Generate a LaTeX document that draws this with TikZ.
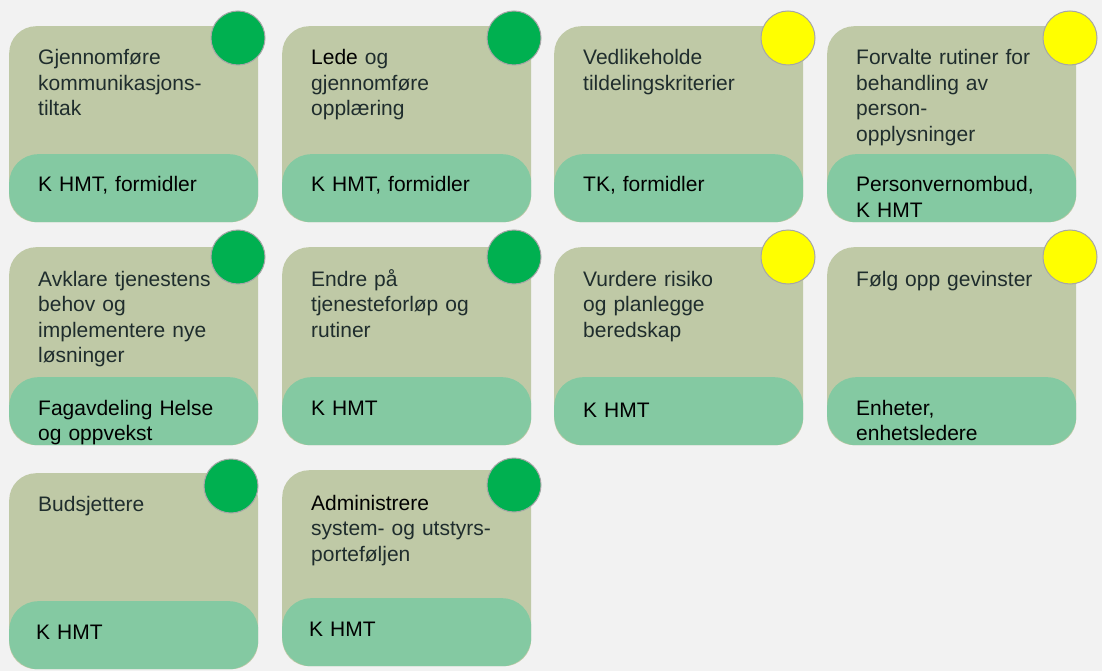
\documentclass[tikz,border=0pt]{standalone}
\usepackage{fontspec}
\usepackage{xcolor}
\setmainfont{Liberation Sans}
\definecolor{PageGrey}{HTML}{F2F2F2}
\definecolor{CardOlive}{HTML}{BFC9A6}
\definecolor{CardGreen}{HTML}{84C9A2}
\definecolor{TitleInk}{HTML}{1F2D2D}
\definecolor{DotGreen}{HTML}{00B050}
\definecolor{DotYellow}{HTML}{FFFF00}
\definecolor{DotRim}{HTML}{A6A6A6}

\begin{document}
\begin{tikzpicture}[x = 1pt, y = -1pt]
                    \fill[PageGrey] (0, 0) rectangle (1102, 671);
                    \useasboundingbox (0, 0) rectangle (1102, 671);

                    \begin{scope}[
                        every node/.style = {
                            shape          = rectangle,
                            inner sep      = 0pt,
                            minimum width  = 249pt,
                            minimum height = 196pt,
                            rounded corners = 27pt,
                            fill           = CardOlive,
                            anchor         = north west,
                        }
                    ]
                        \node (K11) at (  9,  26) {};
                        \node (K12) at (282,  26) {};
                        \node (K13) at (554,  26) {};
                        \node (K14) at (827,  26) {};
                        \node (K21) at (  9, 247) [minimum height = 198pt] {};
                        \node (K22) at (282, 247) [minimum height = 198pt] {};
                        \node (K23) at (554, 247) [minimum height = 198pt] {};
                        \node (K24) at (827, 247) [minimum height = 198pt] {};
                        \node (K31) at (  9, 473) {};
                        \node (K32) at (282, 470) {};
                    \end{scope}

                    \begin{scope}[
                        every node/.style = {
                            shape          = rectangle,
                            inner sep      = 0pt,
                            minimum width  = 249pt,
                            minimum height = 68pt,
                            rounded corners = 29pt,
                            fill           = CardGreen,
                            anchor         = south west,
                        }
                    ]
                        \node (B11) at (K11.south west) {};
                        \node (B12) at (K12.south west) {};
                        \node (B13) at (K13.south west) {};
                        \node (B14) at (K14.south west) {};
                        \node (B21) at (K21.south west) {};
                        \node (B22) at (K22.south west) {};
                        \node (B23) at (K23.south west) {};
                        \node (B24) at (K24.south west) {};
                        \node (B31) at (K31.south west) {};
                        \node (B32) at (K32.south west) {};
                    \end{scope}

                    \begin{scope}[
                        every node/.style = {
                            shape        = circle,
                            inner sep    = 0pt,
                            minimum size = 54pt,
                            draw         = DotRim,
                            line width   = 1pt,
                        }
                    ]
                        \node (S11) at ( 238,  38) [fill = DotGreen ] {};
                        \node (S12) at ( 514,  38) [fill = DotGreen ] {};
                        \node (S13) at ( 788,  38) [fill = DotYellow] {};
                        \node (S14) at (1070,  38) [fill = DotYellow] {};
                        \node (S21) at ( 238, 257) [fill = DotGreen ] {};
                        \node (S22) at ( 514, 257) [fill = DotGreen ] {};
                        \node (S23) at ( 788, 257) [fill = DotYellow] {};
                        \node (S24) at (1070, 257) [fill = DotYellow] {};
                        \node (S31) at ( 231, 486) [fill = DotGreen ] {};
                        \node (S32) at ( 514, 485) [fill = DotGreen ] {};
                    \end{scope}

                    \begin{scope}[
                        every node/.style = {
                            inner sep  = 0pt,
                            anchor     = base west,
                            align      = left,
                            text width = 212pt,
                            font       = \fontsize{21}{25.5}\selectfont,
                            text       = TitleInk,
                        }
                    ]
                        \node (L11) at ( 38,  65) {Gjennomføre\\kommunikasjons-\\tiltak};
                        \node (L12) at (311,  65) {{\color{black}Lede} og\\gjennomføre\\opplæring};
                        \node (L13) at (583,  65) {Vedlikeholde\\tildelingskriterier};
                        \node (L14) at (856,  65) {Forvalte rutiner for\\behandling av\\person-\\opplysninger};
                        \node (L21) at ( 38, 286) {Avklare tjenestens\\behov og\\implementere nye\\løsninger};
                        \node (L22) at (311, 286) {Endre på\\tjenesteforløp og\\rutiner};
                        \node (L23) at (583, 286) {Vurdere risiko\\og planlegge\\beredskap};
                        \node (L24) at (856, 286) {Følg opp gevinster};
                        \node (L31) at ( 38, 511) {Budsjettere};
                        \node (L32) at (311, 510) {{\color{black}Administrere}\\system- og utstyrs-\\porteføljen};
                    \end{scope}

                    \begin{scope}[
                        every node/.style = {
                            inner sep  = 0pt,
                            anchor     = base west,
                            align      = left,
                            text width = 212pt,
                            font       = \fontsize{21}{25}\selectfont,
                            text       = black,
                        }
                    ]
                        \node (O11) at ( 38, 191) {K HMT, formidler};
                        \node (O12) at (311, 191) {K HMT, formidler};
                        \node (O13) at (583, 192) {TK, formidler};
                        \node (O14) at (856, 192) {Personvernombud,\\K HMT};
                        \node (O21) at ( 38, 415) {Fagavdeling Helse\\og oppvekst};
                        \node (O22) at (311, 415) {K HMT};
                        \node (O23) at (583, 417) {K HMT};
                        \node (O24) at (856, 415) {Enheter,\\enhetsledere};
                        \node (O31) at ( 36, 639) {K HMT};
                        \node (O32) at (309, 636) {K HMT};
                    \end{scope}
                \end{tikzpicture}
\end{document}
